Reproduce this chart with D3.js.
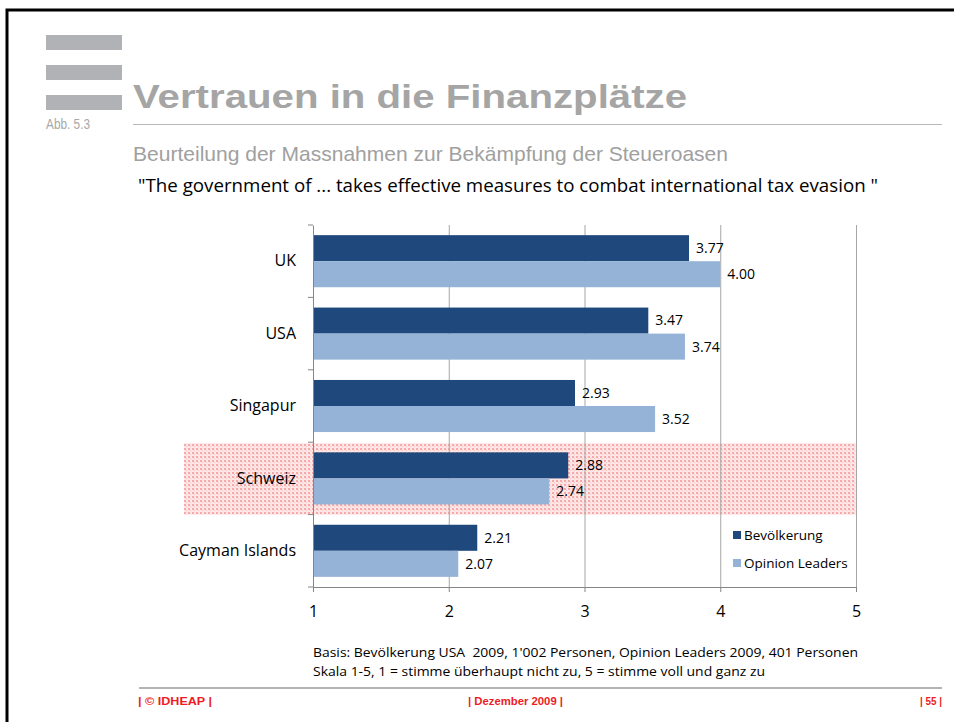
<!DOCTYPE html>
<html>
<head>
<meta charset="utf-8">
<script src="https://cdn.jsdelivr.net/npm/d3@7"></script>
<style>
  body { margin: 0; background: #fff; }
  svg { display: block; }
</style>
</head>
<body>
<svg width="954" height="722"></svg>
<script>
// data
const categories = ["UK", "USA", "Singapur", "Schweiz", "Cayman Islands"];
const seriesNames = ["Bevölkerung", "Opinion Leaders"];
const bevoelkerung = [3.77, 3.47, 2.93, 2.88, 2.21];
const opinionLeaders = [4.00, 3.74, 3.52, 2.74, 2.07];
const xTicks = [1, 2, 3, 4, 5];
const highlighted = "Schweiz";

const colors = ["#1f497d", "#95b3d7"];
const labelFont = "'Open Sans', Lato, sans-serif";
const narrowFont = "'Liberation Sans Narrow', 'Liberation Sans', sans-serif";

const svg = d3.select("svg");

// pink dotted fill for the highlighted row
const pat = svg.append("defs").append("pattern")
  .attr("id", "dots")
  .attr("width", 4).attr("height", 4)
  .attr("patternUnits", "userSpaceOnUse");
pat.append("rect").attr("width", 4).attr("height", 4).attr("fill", "#fde6e6");
pat.append("rect").attr("x", 0).attr("y", 0).attr("width", 2).attr("height", 2).attr("fill", "#f6a9aa");
pat.append("rect").attr("x", 2).attr("y", 2).attr("width", 1).attr("height", 1).attr("fill", "#f9c4c4");

// page frame (left + top)
svg.append("path")
  .attr("d", "M7,722 V10 H954")
  .attr("fill", "none")
  .attr("stroke", "#000")
  .attr("stroke-width", 3);

// header decoration
svg.append("g").selectAll("rect")
  .data([35, 65, 95])
  .join("rect")
  .attr("x", 46).attr("y", d => d)
  .attr("width", 76).attr("height", 15)
  .attr("fill", "#b1b2b5");

svg.append("text")
  .attr("x", 46).attr("y", 129)
  .attr("font-family", narrowFont)
  .attr("font-size", 14)
  .attr("fill", "#a8a8a8")
  .attr("textLength", 44).attr("lengthAdjust", "spacingAndGlyphs")
  .text("Abb. 5.3");

svg.append("text")
  .attr("x", 133).attr("y", 108)
  .attr("font-family", "'Liberation Sans', Arial, sans-serif")
  .attr("font-weight", "bold")
  .attr("font-size", 33)
  .attr("fill", "#a5a5a5")
  .attr("textLength", 554).attr("lengthAdjust", "spacingAndGlyphs")
  .text("Vertrauen in die Finanzplätze");

svg.append("line")
  .attr("x1", 133).attr("x2", 942)
  .attr("y1", 124.5).attr("y2", 124.5)
  .attr("stroke", "#b8b8b8").attr("stroke-width", 1);

svg.append("text")
  .attr("x", 133).attr("y", 161)
  .attr("font-family", narrowFont)
  .attr("font-size", 21)
  .attr("fill", "#a0a0a0")
  .attr("textLength", 595).attr("lengthAdjust", "spacingAndGlyphs")
  .text("Beurteilung der Massnahmen zur Bekämpfung der Steueroasen");

svg.append("text")
  .attr("x", 138).attr("y", 192)
  .attr("font-family", labelFont)
  .attr("font-size", 18)
  .attr("fill", "#000")
  .attr("textLength", 740).attr("lengthAdjust", "spacingAndGlyphs")
  .text("\"The government of ... takes effective measures to combat international tax evasion \"");

// scales
const x = d3.scaleLinear().domain([1, 5]).range([313, 856]);
const y = d3.scaleBand().domain(categories).range([225, 587]);
const ySub = d3.scaleBand().domain(seriesNames).range([0, y.bandwidth()]).paddingOuter(0.39);

// highlight band
svg.append("rect")
  .attr("x", 184)
  .attr("y", y(highlighted) + 1)
  .attr("width", x(5) - 184)
  .attr("height", y.bandwidth() - 1)
  .attr("fill", "url(#dots)");

// gridlines
svg.append("g").selectAll("line")
  .data(xTicks.slice(1))
  .join("line")
  .attr("x1", d => x(d) + 0.5).attr("x2", d => x(d) + 0.5)
  .attr("y1", y.range()[0]).attr("y2", y.range()[1])
  .attr("stroke", "#a6a6a6");

// bars
const rows = categories.map((c, i) => ({ cat: c, values: [bevoelkerung[i], opinionLeaders[i]] }));

const grp = svg.append("g").selectAll("g")
  .data(rows)
  .join("g")
  .attr("transform", d => `translate(0,${y(d.cat)})`);

grp.selectAll("rect")
  .data(d => d.values.map((v, j) => ({ key: seriesNames[j], v: v, j: j })))
  .join("rect")
  .attr("x", x(1))
  .attr("y", d => ySub(d.key))
  .attr("width", d => x(d.v) - x(1))
  .attr("height", ySub.bandwidth())
  .attr("fill", d => colors[d.j]);

grp.selectAll("text")
  .data(d => d.values.map((v, j) => ({ key: seriesNames[j], v: v })))
  .join("text")
  .attr("x", d => x(d.v) + 7)
  .attr("y", d => ySub(d.key) + ySub.bandwidth() / 2)
  .attr("dy", "0.35em")
  .attr("font-family", labelFont)
  .attr("font-size", 14)
  .attr("fill", "#000")
  .text(d => d3.format(".2f")(d.v));

// y axis
const yAxis = svg.append("g")
  .attr("transform", `translate(${x(1)},0)`)
  .call(d3.axisLeft(y).tickSize(0).tickPadding(17));
yAxis.select(".domain").attr("stroke", "#868686");
yAxis.selectAll("text")
  .attr("font-family", labelFont)
  .attr("font-size", 16)
  .attr("fill", "#000");
yAxis.append("g").selectAll("line")
  .data(d3.range(categories.length + 1))
  .join("line")
  .attr("x1", -5).attr("x2", 0)
  .attr("y1", i => y.range()[0] + i * y.step())
  .attr("y2", i => y.range()[0] + i * y.step())
  .attr("stroke", "#868686");

// x axis
const xAxis = svg.append("g")
  .attr("transform", `translate(0,${y.range()[1]})`)
  .call(d3.axisBottom(x).tickValues(xTicks).tickFormat(d3.format("d")).tickSize(5).tickPadding(14));
xAxis.select(".domain").attr("stroke", "#868686").attr("d", `M${x(1)},0.5H${x(5)}`);
xAxis.selectAll(".tick line").attr("stroke", "#868686");
xAxis.selectAll("text")
  .attr("font-family", labelFont)
  .attr("font-size", 16)
  .attr("fill", "#000");

// legend
const legend = svg.append("g")
  .attr("transform", "translate(733,531)");
const li = legend.selectAll("g")
  .data(seriesNames)
  .join("g")
  .attr("transform", (d, i) => `translate(0,${i * 28})`);
li.append("rect")
  .attr("width", 8).attr("height", 8)
  .attr("fill", (d, i) => colors[i]);
li.append("text")
  .attr("x", 11).attr("y", 4)
  .attr("dy", "0.35em")
  .attr("font-family", labelFont)
  .attr("font-size", 13.5)
  .attr("fill", "#000")
  .text(d => d);

// notes
const notes = [
  "Basis: Bevölkerung USA  2009, 1'002 Personen, Opinion Leaders 2009, 401 Personen",
  "Skala 1-5, 1 = stimme überhaupt nicht zu, 5 = stimme voll und ganz zu"
];
const noteWidths = [545, 452];
svg.append("g").selectAll("text")
  .data(notes)
  .join("text")
  .attr("x", 313)
  .attr("y", (d, i) => 657 + i * 19)
  .attr("font-family", labelFont)
  .attr("font-size", 12.5)
  .attr("fill", "#000")
  .attr("textLength", (d, i) => noteWidths[i])
  .attr("lengthAdjust", "spacingAndGlyphs")
  .style("white-space", "pre")
  .text(d => d);

// footer
svg.append("line")
  .attr("x1", 139).attr("x2", 942)
  .attr("y1", 688).attr("y2", 688)
  .attr("stroke", "#b3b3b3").attr("stroke-width", 2);

const footer = [
  { t: "| © IDHEAP |", x: 138, w: 74, a: "start" },
  { t: "| Dezember 2009 |", x: 468, w: 95, a: "start" },
  { t: "| 55 |", x: 920, w: 22, a: "start" }
];
svg.append("g").selectAll("text")
  .data(footer)
  .join("text")
  .attr("x", d => d.x)
  .attr("y", 705)
  .attr("text-anchor", d => d.a)
  .attr("font-family", narrowFont)
  .attr("font-size", 11)
  .attr("font-weight", "bold")
  .attr("fill", "#ee1c25")
  .attr("textLength", d => d.w)
  .attr("lengthAdjust", "spacingAndGlyphs")
  .text(d => d.t);
</script>
</body>
</html>
